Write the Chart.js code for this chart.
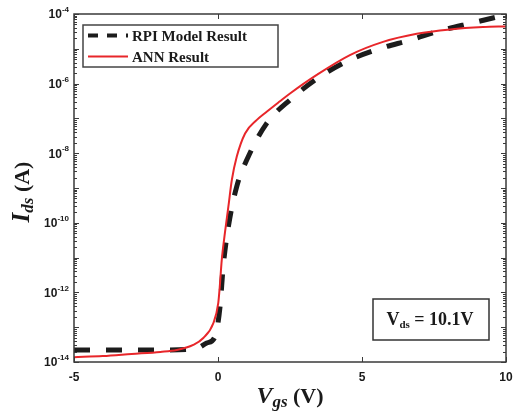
<!DOCTYPE html>
<html>
<head>
<meta charset="utf-8">
<script src="https://cdn.jsdelivr.net/npm/chart.js@4.4.0/dist/chart.umd.min.js"></script>
<style>
  html, body { margin: 0; padding: 0; background: #fff; }
</style>
</head>
<body>
<canvas id="idsChart" width="513" height="413"></canvas>
<script>
// Transfer curve Ids vs Vgs at Vds = 10.1 V
const vgsRpi = [-5, -4, -3, -2, -1, -0.7, -0.39, -0.1, 0.07, 0.18, 0.36, 0.65, 1.05, 1.69, 2.5, 3.54, 4.58, 5.63, 6.67, 7.71, 8.85, 10];
const idsRpi = [2.2e-14, 2.2e-14, 2.2e-14, 2.2e-14, 2.3e-14, 2.5e-14, 3.5e-14, 5.4e-14, 3.9e-13, 5.5e-12, 7.8e-11, 1.1e-9, 7.9e-9, 7.2e-8, 3.4e-7, 1.58e-6, 4.8e-6, 1.02e-5, 1.78e-5, 3.3e-5, 5.6e-5, 9.5e-5];

const vgsAnn = [-5, -4, -3, -2, -1.43, -0.86, -0.51, -0.16, 0.01, 0.06, 0.13, 0.24, 0.36, 0.48, 0.65, 0.94, 1.34, 1.69, 2.15, 2.5, 3.43, 4.58, 5.73, 6.9, 8.06, 9.2, 10];
const idsAnn = [1.38e-14, 1.48e-14, 1.7e-14, 1.95e-14, 2.21e-14, 3.09e-14, 4.9e-14, 1.32e-13, 5.0e-13, 1.41e-12, 8.5e-12, 5.1e-11, 2.9e-10, 1.7e-9, 7.9e-9, 3.7e-8, 8.9e-8, 1.55e-7, 3.1e-7, 5.2e-7, 1.78e-6, 6.6e-6, 1.58e-5, 2.7e-5, 3.6e-5, 4.2e-5, 4.4e-5];

const xTicks = [-5, 0, 5, 10];
const yTickExponents = [-14, -12, -10, -8, -6, -4];
const seriesLabels = ['RPI Model Result', 'ANN Result'];

const toPoints = (xs, ys) => xs.map((x, i) => ({ x: x, y: ys[i] }));

// draws a row of differently styled text pieces (for subscripts / superscripts)
function drawRuns(ctx, runs, x, y, align) {
  let total = 0;
  runs.forEach(r => { ctx.font = r.font; r.w = ctx.measureText(r.text).width; total += r.w; });
  let cx = align === 'center' ? x - total / 2 : (align === 'right' ? x - total : x);
  ctx.textAlign = 'left';
  runs.forEach(r => {
    ctx.font = r.font;
    ctx.fillText(r.text, cx, y + (r.dy || 0));
    cx += r.w;
  });
}

const framePlugin = {
  id: 'frame',
  afterDatasetsDraw(chart) {
    const ctx = chart.ctx;
    const area = chart.chartArea;
    const xs = chart.scales.x;
    const ys = chart.scales.y;
    ctx.save();

    // axes box
    ctx.strokeStyle = '#3a3a3a';
    ctx.lineWidth = 1.5;
    ctx.strokeRect(area.left, area.top, area.right - area.left, area.bottom - area.top);

    // x ticks, inward on bottom and top
    ctx.lineWidth = 1;
    ctx.beginPath();
    xTicks.forEach(v => {
      const px = Math.round(xs.getPixelForValue(v)) + 0.5;
      ctx.moveTo(px, area.bottom); ctx.lineTo(px, area.bottom - 5);
      ctx.moveTo(px, area.top); ctx.lineTo(px, area.top + 5);
    });
    // y ticks: decades and log minor ticks on both sides
    for (let e = -14; e <= -4; e++) {
      for (let k = 1; k <= 9; k++) {
        if (e === -4 && k > 1) break;
        const py = Math.round(ys.getPixelForValue(k * Math.pow(10, e))) + 0.5;
        const len = k === 1 ? 5 : 3;
        ctx.moveTo(area.left, py); ctx.lineTo(area.left + len, py);
        ctx.moveTo(area.right, py); ctx.lineTo(area.right - len, py);
      }
    }
    ctx.stroke();

    // tick labels
    ctx.fillStyle = '#1a1a1a';
    ctx.textBaseline = 'middle';
    xTicks.forEach(v => {
      ctx.font = 'bold 12px "Liberation Sans", Arial, sans-serif';
      ctx.textAlign = 'center';
      ctx.fillText(String(v), xs.getPixelForValue(v), 378);
    });
    yTickExponents.forEach(e => {
      const py = ys.getPixelForValue(Math.pow(10, e));
      drawRuns(ctx, [
        { text: '10', font: 'bold 12px "Liberation Sans", Arial, sans-serif', dy: 1 },
        { text: String(e), font: 'bold 8px "Liberation Sans", Arial, sans-serif', dy: -4 }
      ], 69, py, 'right');
    });

    // axis titles
    ctx.textBaseline = 'alphabetic';
    drawRuns(ctx, [
      { text: 'V', font: 'italic bold 24px "Liberation Serif", serif' },
      { text: 'gs', font: 'italic bold 17px "Liberation Serif", serif', dy: 4 },
      { text: ' (V)', font: 'bold 22px "Liberation Serif", serif' }
    ], 290, 403, 'center');

    ctx.save();
    ctx.translate(29, 192);
    ctx.rotate(-Math.PI / 2);
    drawRuns(ctx, [
      { text: 'I', font: 'italic bold 25px "Liberation Serif", serif' },
      { text: 'ds', font: 'italic bold 17px "Liberation Serif", serif', dy: 4 },
      { text: ' (A)', font: 'bold 22px "Liberation Serif", serif' }
    ], 0, 0, 'center');
    ctx.restore();

    // legend box, top left inside the axes
    ctx.fillStyle = '#fff';
    ctx.fillRect(83, 25, 195, 42);
    ctx.strokeStyle = '#444';
    ctx.lineWidth = 1.5;
    ctx.strokeRect(83, 25, 195, 42);
    const rows = [35.5, 56.5];
    chart.data.datasets.forEach((ds, i) => {
      ctx.save();
      ctx.strokeStyle = ds.borderColor;
      ctx.lineWidth = i === 0 ? 4 : 2;
      ctx.setLineDash(i === 0 ? [10, 9] : []);
      ctx.beginPath();
      ctx.moveTo(88, rows[i]); ctx.lineTo(128, rows[i]);
      ctx.stroke();
      ctx.restore();
      ctx.fillStyle = '#1a1a1a';
      ctx.font = 'bold 15px "Liberation Serif", serif';
      ctx.textAlign = 'left';
      ctx.fillText(ds.label, 132, rows[i] + 5);
    });

    // bias annotation, lower right
    ctx.fillStyle = '#fff';
    ctx.fillRect(373, 299, 116, 41);
    ctx.strokeStyle = '#333';
    ctx.lineWidth = 1.5;
    ctx.strokeRect(373, 299, 116, 41);
    ctx.fillStyle = '#1a1a1a';
    drawRuns(ctx, [
      { text: 'V', font: 'bold 18px "Liberation Serif", serif' },
      { text: 'ds', font: 'bold 11px "Liberation Serif", serif', dy: 3 },
      { text: ' = 10.1V', font: 'bold 18px "Liberation Serif", serif' }
    ], 430, 325, 'center');

    ctx.restore();
  }
};

const ctx = document.getElementById('idsChart').getContext('2d');
new Chart(ctx, {
  type: 'line',
  data: {
    datasets: [{
      label: seriesLabels[0],
      data: toPoints(vgsRpi, idsRpi),
      borderColor: '#1c1c1c',
      borderWidth: 5,
      borderDash: [16, 16],
      borderCapStyle: 'butt',
      pointRadius: 0,
      cubicInterpolationMode: 'monotone',
      fill: false,
      order: 1
    }, {
      label: seriesLabels[1],
      data: toPoints(vgsAnn, idsAnn),
      borderColor: '#e8262a',
      borderWidth: 2,
      pointRadius: 0,
      cubicInterpolationMode: 'monotone',
      fill: false,
      order: 0
    }]
  },
  options: {
    responsive: false,
    animation: false,
    layout: { padding: { top: 14, right: 7, left: 0, bottom: 0 } },
    plugins: {
      legend: { display: false },
      tooltip: { enabled: false }
    },
    scales: {
      x: {
        type: 'linear',
        min: -5,
        max: 10,
        grid: { display: false },
        border: { display: false },
        ticks: { display: false },
        afterFit: s => { s.height = 51; }
      },
      y: {
        type: 'logarithmic',
        min: 1e-14,
        max: 1e-4,
        grid: { display: false },
        border: { display: false },
        ticks: { display: false },
        afterFit: s => { s.width = 74; }
      }
    }
  },
  plugins: [framePlugin]
});
</script>
</body>
</html>
